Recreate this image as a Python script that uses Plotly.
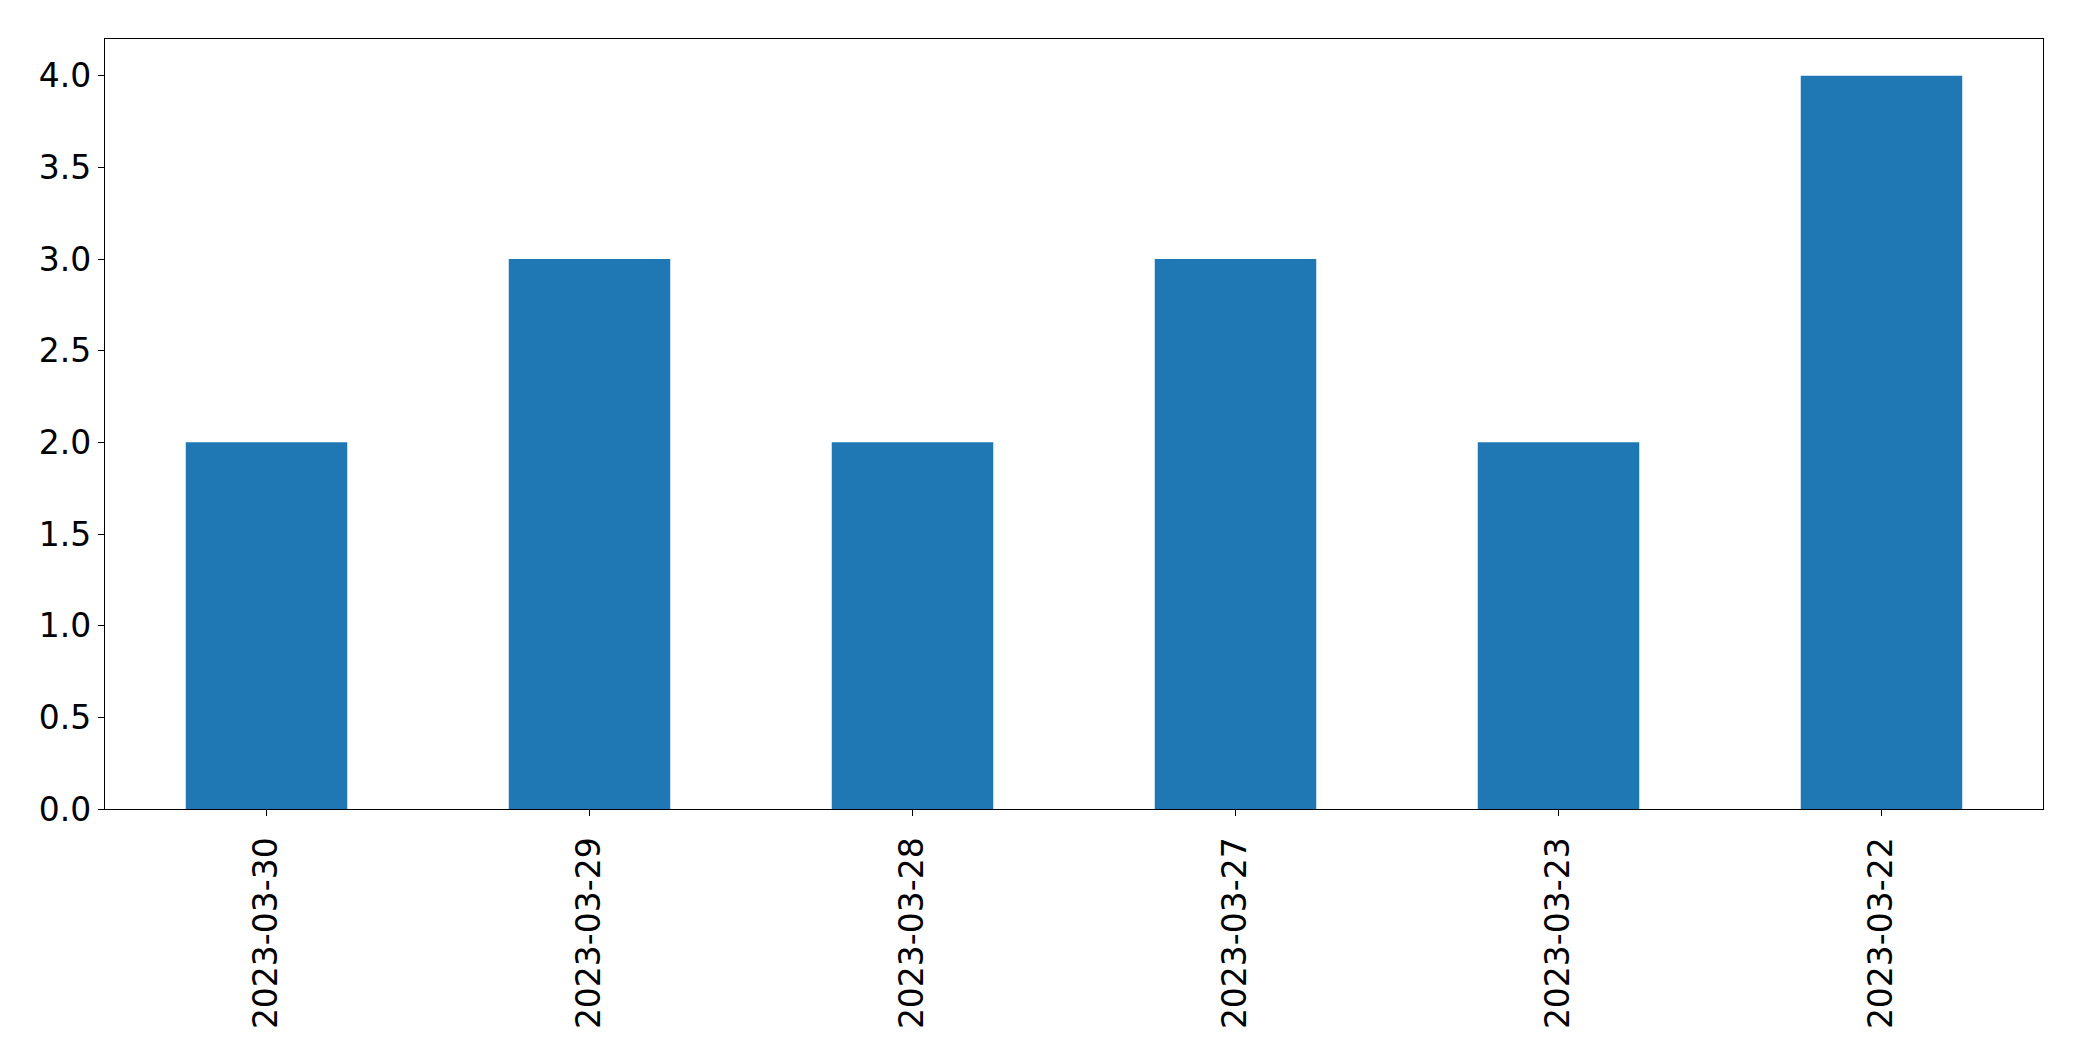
import plotly.graph_objects as go

fechas = ['2023-03-30', '2023-03-29', '2023-03-28', '2023-03-27', '2023-03-23', '2023-03-22']
conteos = [2, 3, 2, 3, 2, 4]
ticks_y = [0.0, 0.5, 1.0, 1.5, 2.0, 2.5, 3.0, 3.5, 4.0]

fig = go.Figure()
fig.add_trace(go.Bar(
    x=list(range(len(fechas))),
    y=conteos,
    width=0.5,
    marker=dict(color='#1f77b4', line=dict(width=0)),
))

eje = dict(
    showline=True, linecolor='black', linewidth=1.3, mirror=True,
    ticks='outside', ticklen=6, tickwidth=1.3, tickcolor='black',
    showgrid=False, zeroline=False, automargin=False,
    tickfont=dict(family='DejaVu Sans', size=33, color='black'),
)

# la pagina tiene 8px de margen en el body, se descuenta aqui
fig.update_layout(
    width=2066, height=1045,
    margin=dict(l=97, r=31, t=31, b=244),
    plot_bgcolor='white', paper_bgcolor='white',
    showlegend=False,
    xaxis=dict(eje, range=[-0.5, 5.5], tickmode='array',
               tickvals=list(range(len(fechas))), ticktext=fechas, tickangle=-90,
               ticklabelstandoff=8),
    yaxis=dict(eje, range=[0, 4.2], tickmode='array',
               tickvals=ticks_y, ticktext=[f'{v:.1f}' for v in ticks_y]),
)

fig.write_html("out.html")
